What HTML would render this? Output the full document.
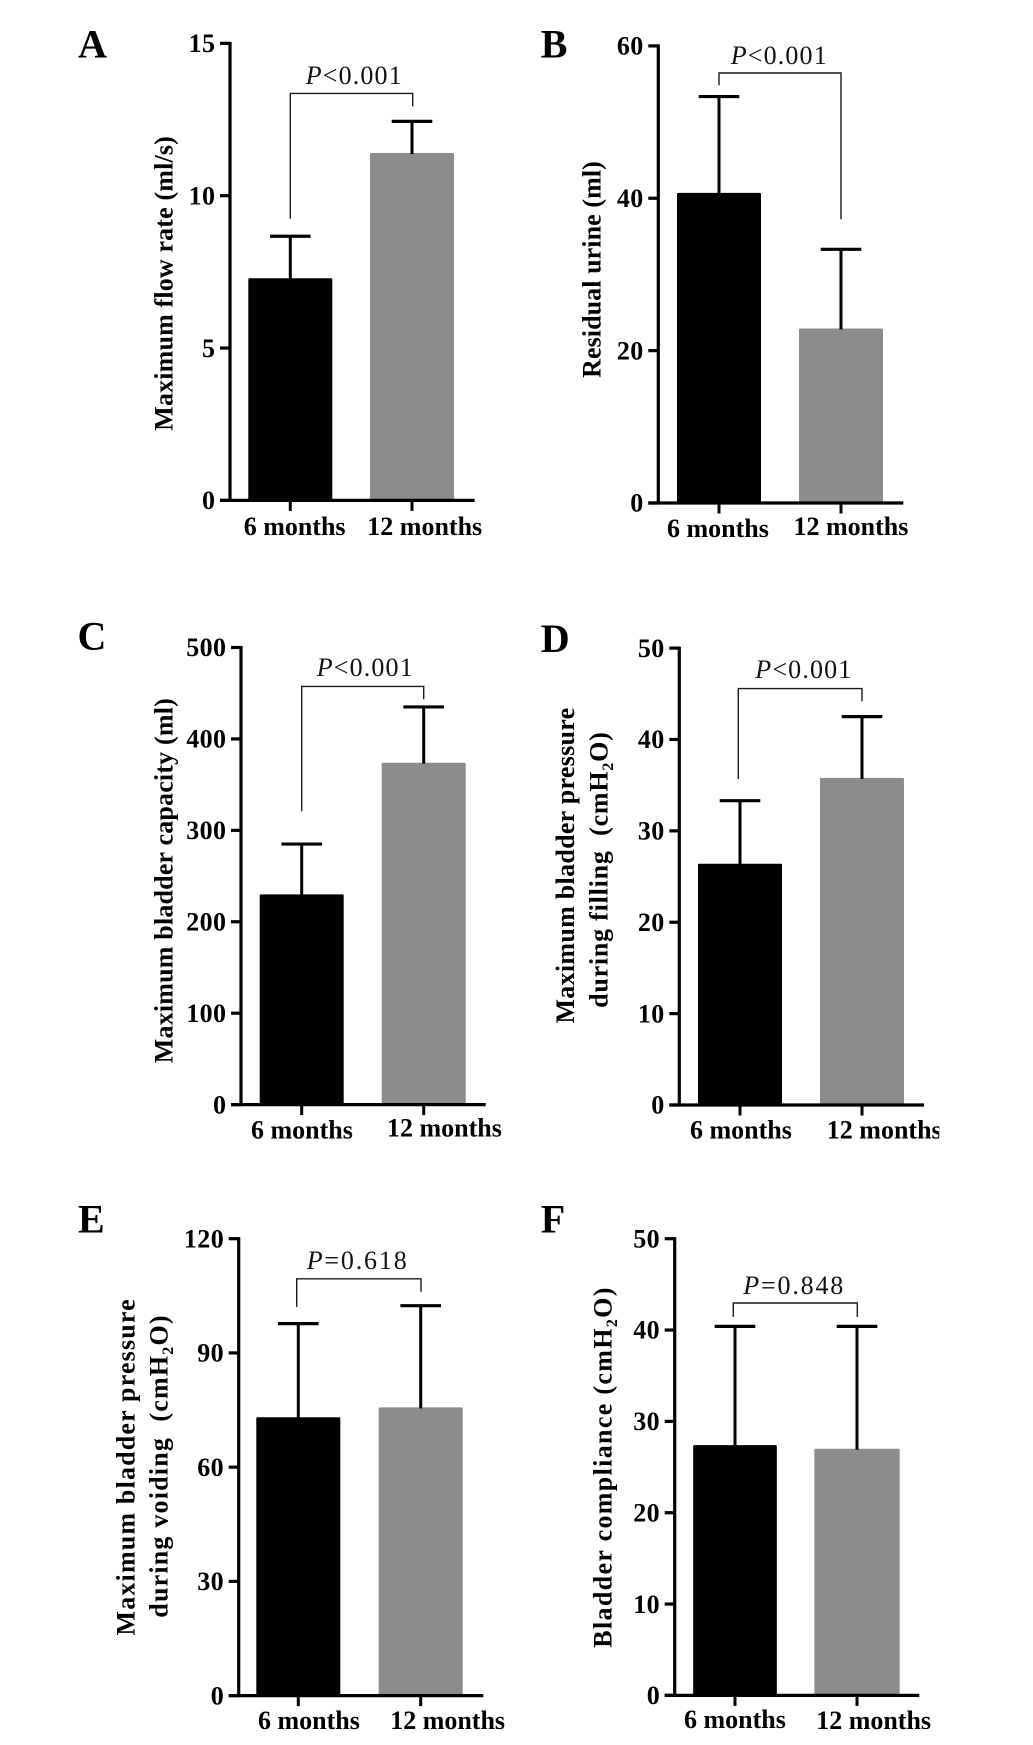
<!DOCTYPE html>
<html lang="en">
<head>
<meta charset="utf-8">
<title>Urodynamic outcomes at 6 and 12 months</title>
<style>
html,body{margin:0;padding:0;background:#fff;width:1033px;height:1745px;overflow:hidden}
svg{display:block}
text{font-family:"Liberation Serif",serif;fill:#000;white-space:pre}
.tick{font-weight:700;font-size:26px;letter-spacing:.4px;text-anchor:end}
.cat{font-weight:700;font-size:26px}
.title{font-weight:700;font-size:26px}
.letter{font-weight:700;font-size:40px}
.pval{font-size:26px;fill:#111}
</style>
</head>
<body>
<svg id="figure" xmlns="http://www.w3.org/2000/svg" width="1033" height="1745" viewBox="0 0 1033 1745">
<rect x="0" y="0" width="1033" height="1745" fill="#fff"/>
<defs><clipPath id="clip-d"><rect x="600" y="1100" width="339.3" height="60"/></clipPath></defs>
</svg>
<script>
const categories = ['6 months', '12 months'];

const ticksA = [0, 5, 10, 15];
const meansA = [7.29, 11.4];
const errorTopsA = [8.67, 12.44];

const ticksB = [0, 20, 40, 60];
const meansB = [40.7, 22.9];
const errorTopsB = [53.35, 33.3];

const ticksC = [0, 100, 200, 300, 400, 500];
const meansC = [230, 374];
const errorTopsC = [285, 435];

const ticksD = [0, 10, 20, 30, 40, 50];
const meansD = [26.4, 35.8];
const errorTopsD = [33.3, 42.5];

const ticksE = [0, 30, 60, 90, 120];
const meansE = [73.1, 75.7];
const errorTopsE = [97.7, 102.4];

const ticksF = [0, 10, 20, 30, 40, 50];
const meansF = [27.4, 27.0];
const errorTopsF = [40.4, 40.4];

const svg = document.getElementById('figure');
const NS = 'http://www.w3.org/2000/svg';

function mk(tag, attrs, name, parent) {
  const el = document.createElementNS(NS, tag);
  for (const k in attrs) el.setAttribute(k, attrs[k]);
  
  
  (parent || svg).appendChild(el);
  return el;
}

function drawLine(g, x1, y1, x2, y2, w, color, name) {
  return mk('line', {x1: x1, y1: y1, x2: x2, y2: y2, stroke: color, 'stroke-width': w}, name, g);
}

function addTitle(g, line) {
  const t = mk('text', {
    class: 'title',
    transform: 'translate(' + line.x + ' ' + line.y + ') rotate(-90)',
    textLength: line.len,
    lengthAdjust: 'spacing'
  }, 'y-axis-title', g);
  if (line.sub) {
    t.appendChild(document.createTextNode(line.text));
    const s = document.createElementNS(NS, 'tspan');
    s.setAttribute('dy', '5.5');
    s.setAttribute('font-size', '16');
    s.textContent = '2';
    t.appendChild(s);
    const r = document.createElementNS(NS, 'tspan');
    r.setAttribute('dy', '-5.5');
    r.textContent = 'O)';
    t.appendChild(r);
  } else {
    t.textContent = line.text;
  }
}

const panels = [
  {id: 'a', letter: 'A', lx: 78, ly: 57.5, ticks: ticksA, means: meansA, tops: errorTopsA,
   axisX: 230, yTop: 43.35, y0: 500.4, xEnd: 474.7, cx: [290.3, 412], barW: [84, 84],
   br: {xl: 290.3, xr: 412.7, top: 93.4, lb: 218.6, rb: 106.4},
   p: {x: 305.7, y: 83.8, rest: '<0.001', len: 96},
   cats: [{x: 243.7, y: 535}, {x: 367.3, y: 535}],
   titles: [{text: 'Maximum flow rate (ml/s)', x: 172.3, y: 430.7, len: 294.5}]},
  {id: 'b', letter: 'B', lx: 540.7, ly: 57.5, ticks: ticksB, means: meansB, tops: errorTopsB,
   axisX: 658.3, yTop: 45.9, y0: 503, xEnd: 903.3, cx: [719, 841], barW: [84, 84],
   br: {xl: 719, xr: 841, top: 73, lb: 85.3, rb: 219.3},
   p: {x: 730.7, y: 64.2, rest: '<0.001', len: 96},
   cats: [{x: 667, y: 536.8}, {x: 793.5, y: 535}],
   titles: [{text: 'Residual urine (ml)', x: 600.3, y: 377.9, len: 216.7}]},
  {id: 'c', letter: 'C', lx: 77.5, ly: 649.6, ticks: ticksC, means: meansC, tops: errorTopsC,
   axisX: 241, yTop: 647.5, y0: 1104.6, xEnd: 485.7, cx: [301.7, 423.7], barW: [84, 84],
   br: {xl: 301.7, xr: 423.7, top: 686.4, lb: 811.2, rb: 699.3},
   p: {x: 316.7, y: 675.8, rest: '<0.001', len: 96},
   cats: [{x: 251, y: 1138.6}, {x: 387, y: 1136.4}],
   titles: [{text: 'Maximum bladder capacity (ml)', x: 172.3, y: 1063.2, len: 365}]},
  {id: 'd', letter: 'D', lx: 540.7, ly: 652, ticks: ticksD, means: meansD, tops: errorTopsD,
   axisX: 679.3, yTop: 648.1, y0: 1105, xEnd: 924, cx: [740, 862], barW: [84, 84],
   br: {xl: 738.3, xr: 862, top: 688.6, lb: 779, rb: 701.2},
   p: {x: 755.3, y: 678.2, rest: '<0.001', len: 96},
   cats: [{x: 690, y: 1138.6}, {x: 826.8, y: 1138.6, clip: true}],
   titles: [{text: 'Maximum bladder pressure', x: 574, y: 1023.5, len: 315.7},
            {text: 'during filling  (cmH', sub: true, x: 607.3, y: 1007.9, len: 275.7}]},
  {id: 'e', letter: 'E', lx: 78, ly: 1232.4, ticks: ticksE, means: meansE, tops: errorTopsE,
   axisX: 238.7, yTop: 1238.7, y0: 1695.6, xEnd: 483.3, cx: [298.3, 420.7], barW: [84, 84],
   br: {xl: 296.7, xr: 421, top: 1278.8, lb: 1306.9, rb: 1291.7},
   p: {x: 306.7, y: 1268.8, rest: '=0.618', len: 100},
   cats: [{x: 258, y: 1729.2}, {x: 390.2, y: 1729.2}],
   titles: [{text: 'Maximum bladder pressure', x: 134.3, y: 1635.5, len: 336.2},
            {text: 'during voiding  (cmH', sub: true, x: 167.7, y: 1617.7, len: 302.3}]},
  {id: 'f', letter: 'F', lx: 540.7, ly: 1232.4, ticks: ticksF, means: meansF, tops: errorTopsF,
   axisX: 674.7, yTop: 1238.7, y0: 1695.4, xEnd: 919.3, cx: [735, 857], barW: [83.7, 85.3],
   br: {xl: 733.3, xr: 857.3, top: 1303, lb: 1316.9, rb: 1316.9},
   p: {x: 743.3, y: 1294, rest: '=0.848', len: 100},
   cats: [{x: 684, y: 1728.2}, {x: 816.2, y: 1729.2}],
   titles: [{text: 'Bladder compliance (cmH', sub: true, x: 611.7, y: 1647.7, len: 360.1}]}
];

const barColors = ['#000000', '#8c8c8c'];

panels.forEach(function (p) {
  const g = mk('g', {}, 'panel-' + p.id, svg);
  const yMax = p.ticks[p.ticks.length - 1];
  const yScale = function (v) { return p.y0 - (v / yMax) * (p.y0 - p.yTop); };

  const letter = mk('text', {class: 'letter', x: p.lx, y: p.ly}, 'panel-label', g);
  letter.textContent = p.letter;

  p.means.forEach(function (m, i) {
    const w = p.barW[i];
    const yv = yScale(m);
    mk('rect', {x: p.cx[i] - w / 2, y: yv, width: w, height: p.y0 - yv, rx: 1.2, fill: barColors[i]}, 'bar-' + categories[i].replace(' ', '-'), g);
    const yt = yScale(p.tops[i]);
    drawLine(g, p.cx[i], yv + 1, p.cx[i], yt, 3, '#000', 'error-bar-stem');
    drawLine(g, p.cx[i] - 20.3, yt, p.cx[i] + 20.3, yt, 3.2, '#000', 'error-bar-cap');
  });

  drawLine(g, p.axisX, p.yTop - 1.5, p.axisX, p.y0 + 1.5, 3.2, '#000', 'y-axis-line');
  drawLine(g, p.axisX - 10, p.y0, p.xEnd, p.y0, 3.2, '#000', 'x-axis-line');

  p.ticks.forEach(function (t) {
    const y = yScale(t);
    drawLine(g, p.axisX - 10, y, p.axisX, y, 3.2, '#000', 'y-tick');
    const lab = mk('text', {class: 'tick', x: p.axisX - 14.6, y: y + 8.7}, 'y-tick-label', g);
    lab.textContent = String(t);
  });

  categories.forEach(function (c, i) {
    drawLine(g, p.cx[i], p.y0, p.cx[i], p.y0 + 10.5, 3, '#000', 'x-tick');
    const attrs = {class: 'cat', x: p.cats[i].x, y: p.cats[i].y};
    if (p.cats[i].clip) attrs['clip-path'] = 'url(#clip-d)';
    const lab = mk('text', attrs, 'x-tick-label', g);
    lab.textContent = c;
  });

  const b = p.br;
  mk('path', {
    d: 'M' + b.xl + ' ' + b.lb + 'V' + b.top + 'H' + b.xr + 'V' + b.rb,
    fill: 'none', stroke: '#1a1a1a', 'stroke-width': 1.4
  }, 'significance-bracket', g);

  const pt = mk('text', {class: 'pval', x: p.p.x, y: p.p.y, textLength: p.p.len, lengthAdjust: 'spacing'}, 'p-value-label', g);
  const italic = document.createElementNS(NS, 'tspan');
  italic.setAttribute('font-style', 'italic');
  italic.textContent = 'P';
  pt.appendChild(italic);
  pt.appendChild(document.createTextNode(p.p.rest));

  p.titles.forEach(function (line) { addTitle(g, line); });
});
</script>
</body>
</html>
